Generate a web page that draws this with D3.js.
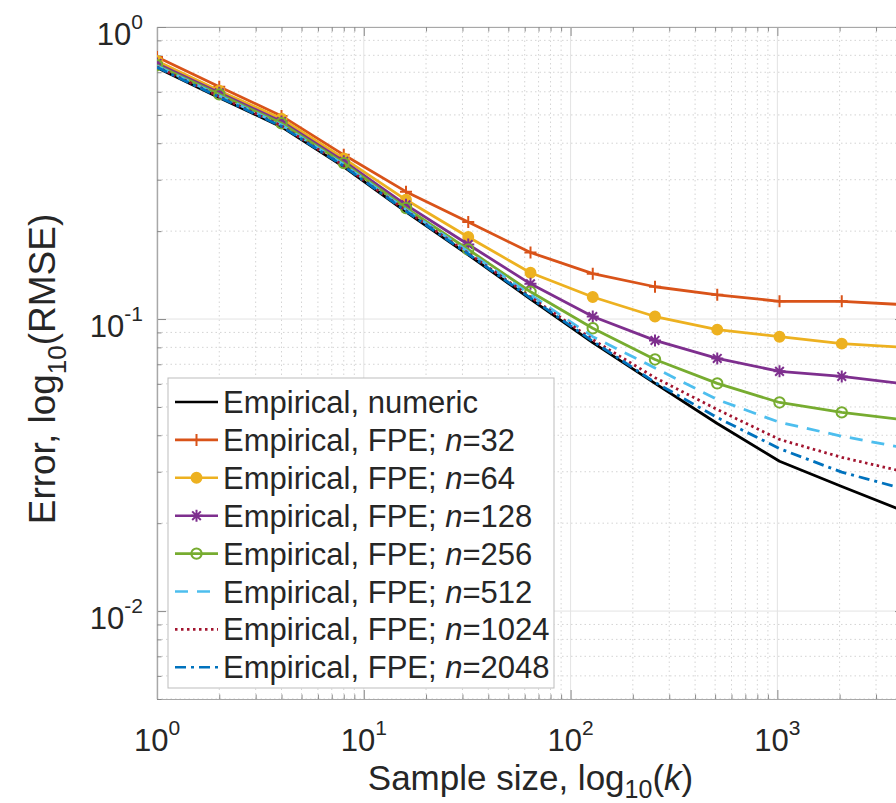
<!DOCTYPE html>
<html><head><meta charset="utf-8">
<script src="https://cdn.jsdelivr.net/npm/d3@7"></script>
<style>
body{margin:0;background:#fff}
svg{display:block}
text{font-family:"Liberation Sans",Arial,Helvetica,sans-serif;fill:#262626}
</style>
</head><body>
<svg id="chart" width="896" height="803"></svg>
<script>
// ---- data ----
const sampleSizes = [1,2,4,8,16,32,64,128,256,512,1024,2048,4096];
const numeric  = [0.725,0.572,0.455,0.332,0.233,0.166,0.117,0.083,0.0602,0.0439,0.0326,0.0267,0.0220];
const fpe32    = [0.789,0.624,0.496,0.365,0.273,0.215,0.169,0.143,0.129,0.121,0.115,0.115,0.112];
const fpe64    = [0.765,0.605,0.485,0.355,0.256,0.191,0.144,0.119,0.102,0.092,0.087,0.0824,0.080];
const fpe128   = [0.750,0.595,0.475,0.347,0.246,0.180,0.132,0.102,0.0845,0.0733,0.0662,0.0636,0.0600];
const fpe256   = [0.740,0.588,0.468,0.342,0.240,0.173,0.124,0.093,0.0727,0.0602,0.0518,0.0479,0.0452];
const fpe512   = [0.735,0.582,0.462,0.338,0.237,0.170,0.121,0.087,0.068,0.053,0.0443,0.0397,0.0362];
const fpe1024  = [0.730,0.578,0.459,0.335,0.235,0.168,0.119,0.085,0.063,0.049,0.0387,0.0336,0.0300];
const fpe2048  = [0.728,0.575,0.457,0.334,0.234,0.167,0.118,0.084,0.0607,0.046,0.036,0.0299,0.0262];
const seriesN  = [null,"32","64","128","256","512","1024","2048"];
const xTickExp = ["0","1","2","3"];
const yTickExp = ["0","-1","-2"];
const xLabelParts = ["Sample size, log","10","k"];
const yLabelParts = ["Error, log","10","(RMSE)"];

// ---- styles ----
const styles = [
  {color:"#000000", dash:null, marker:null},
  {color:"#D95319", dash:null, marker:"plus"},
  {color:"#EDB120", dash:null, marker:"dot"},
  {color:"#7E2F8E", dash:null, marker:"star"},
  {color:"#77AC30", dash:null, marker:"circle"},
  {color:"#4DBEEE", dash:"13,9", marker:null},
  {color:"#A2142F", dash:"2.5,3.5", marker:null},
  {color:"#0072BD", dash:"11,5,3,5", marker:null}
];
const allValues = [numeric,fpe32,fpe64,fpe128,fpe256,fpe512,fpe1024,fpe2048];
const series = allValues.map((vals,i)=>({n:seriesN[i], values:vals.map((v,j)=>({k:sampleSizes[j], v})), style:styles[i]}));

const L=157, R=904, T=27, B=699;
const x = d3.scaleLog().domain([1,4096]).range([L,R]);
const y = d3.scaleLog().domain([0.005,1]).range([B,T]);
const svg = d3.select("#chart");

svg.append("defs").append("clipPath").attr("id","plotclip")
  .append("rect").attr("x",L).attr("y",T).attr("width",R-L).attr("height",B-T);

// ---- grids ----
const xMajor = [1,10,100,1000];
const xMinor = [];
for (let d=1; d<=1000; d*=10) for (let m=2; m<=9; m++) if (d*m<=4096) xMinor.push(d*m);
const yMajor = [1,0.1,0.01];
const yMinor = [];
[0.001,0.01,0.1].forEach(d=>{for(let m=2;m<=9;m++){const v=d*m; if(v>=0.005-1e-9 && v<1) yMinor.push(v);}});

const grid = svg.append("g");
grid.selectAll(".xmin").data(xMinor).join("line")
  .attr("x1",d=>x(d)).attr("x2",d=>x(d)).attr("y1",T).attr("y2",B)
  .attr("stroke","#d4d4d4").attr("stroke-width",1).attr("stroke-dasharray","1.5,3");
grid.selectAll(".ymin").data(yMinor).join("line")
  .attr("y1",d=>y(d)).attr("y2",d=>y(d)).attr("x1",L).attr("x2",R)
  .attr("stroke","#d4d4d4").attr("stroke-width",1).attr("stroke-dasharray","1.5,3");
grid.selectAll(".xmaj").data(xMajor).join("line")
  .attr("x1",d=>x(d)).attr("x2",d=>x(d)).attr("y1",T).attr("y2",B)
  .attr("stroke","#e3e3e3").attr("stroke-width",1);
grid.selectAll(".ymaj").data(yMajor).join("line")
  .attr("y1",d=>y(d)).attr("y2",d=>y(d)).attr("x1",L).attr("x2",R)
  .attr("stroke","#e3e3e3").attr("stroke-width",1);

// ---- axes (inward ticks, box) ----
function styleAxis(g){
  g.select(".domain").attr("stroke","#a8a8a8").attr("stroke-width",1.2);
  g.selectAll(".tick line").attr("stroke","#8a8a8a").attr("stroke-width",1);
  g.selectAll(".tick text").remove();
}
svg.append("g").attr("transform",`translate(0,${B})`)
  .call(d3.axisBottom(x).tickValues(xMajor).tickSize(-9).tickSizeOuter(0).tickFormat("")).call(styleAxis);
svg.append("g").attr("transform",`translate(0,${B})`)
  .call(d3.axisBottom(x).tickValues(xMinor).tickSize(-4.5).tickSizeOuter(0).tickFormat("")).call(styleAxis);
svg.append("g").attr("transform",`translate(0,${T})`)
  .call(d3.axisTop(x).tickValues(xMajor).tickSize(-9).tickSizeOuter(0).tickFormat("")).call(styleAxis);
svg.append("g").attr("transform",`translate(0,${T})`)
  .call(d3.axisTop(x).tickValues(xMinor).tickSize(-4.5).tickSizeOuter(0).tickFormat("")).call(styleAxis);
svg.append("g").attr("transform",`translate(${L},0)`)
  .call(d3.axisLeft(y).tickValues(yMajor).tickSize(-9).tickSizeOuter(0).tickFormat("")).call(styleAxis);
svg.append("g").attr("transform",`translate(${L},0)`)
  .call(d3.axisLeft(y).tickValues(yMinor).tickSize(-4.5).tickSizeOuter(0).tickFormat("")).call(styleAxis);
svg.append("g").attr("transform",`translate(${R},0)`)
  .call(d3.axisRight(y).tickValues(yMajor).tickSize(-9).tickSizeOuter(0).tickFormat("")).call(styleAxis);

// tick labels
const xl = svg.append("g").selectAll("text").data(xMajor).join("text")
  .attr("x",d=>x(d)).attr("y",751).attr("text-anchor","middle").attr("font-size",31);
xl.append("tspan").text("10");
xl.append("tspan").attr("dy",-16).attr("font-size",21).text((d,i)=>xTickExp[i]);

const yl = svg.append("g").selectAll("text").data(yMajor).join("text")
  .attr("x",143).attr("y",d=>y(d)+18).attr("text-anchor","end").attr("font-size",31);
yl.append("tspan").text("10");
yl.append("tspan").attr("dy",-16).attr("font-size",21).text((d,i)=>yTickExp[i]);

// axis labels
const xt = svg.append("text").attr("x",(L+R)/2).attr("y",790).attr("text-anchor","middle").attr("font-size",35);
xt.append("tspan").text(xLabelParts[0]);
xt.append("tspan").attr("dy",8).attr("font-size",25).text(xLabelParts[1]);
xt.append("tspan").attr("dy",-8).text("(");
xt.append("tspan").attr("font-style","italic").text(xLabelParts[2]);
xt.append("tspan").text(")");

const yt = svg.append("text").attr("transform",`translate(55,${(T+B)/2+6}) rotate(-90)`)
  .attr("text-anchor","middle").attr("font-size",37);
yt.append("tspan").text(yLabelParts[0]);
yt.append("tspan").attr("dy",11).attr("font-size",26).text(yLabelParts[1]);
yt.append("tspan").attr("dy",-11).text(yLabelParts[2]);

// ---- lines ----
const line = d3.line().x(d=>x(d.k)).y(d=>y(d.v));
const plot = svg.append("g").attr("clip-path","url(#plotclip)");

function drawMarker(g, type, color, cx, cy){
  const s=6;
  if(type==="plus"){
    g.append("path").attr("d",`M${cx-s},${cy}H${cx+s}M${cx},${cy-s}V${cy+s}`)
      .attr("stroke",color).attr("stroke-width",2).attr("fill","none");
  } else if(type==="dot"){
    g.append("circle").attr("cx",cx).attr("cy",cy).attr("r",5.2)
      .attr("fill",color).attr("stroke",color).attr("stroke-width",1.5);
  } else if(type==="star"){
    const d=s*0.72;
    g.append("path").attr("d",`M${cx-s},${cy}H${cx+s}M${cx},${cy-s}V${cy+s}M${cx-d},${cy-d}L${cx+d},${cy+d}M${cx-d},${cy+d}L${cx+d},${cy-d}`)
      .attr("stroke",color).attr("stroke-width",2).attr("fill","none");
  } else if(type==="circle"){
    g.append("circle").attr("cx",cx).attr("cy",cy).attr("r",5.2)
      .attr("fill","none").attr("stroke",color).attr("stroke-width",2);
  }
}

series.forEach(s=>{
  const g = plot.append("g");
  g.append("path").datum(s.values).attr("d",line)
    .attr("fill","none").attr("stroke",s.style.color).attr("stroke-width",2.8)
    .attr("stroke-linejoin","round")
    .attr("stroke-dasharray",s.style.dash);
  if(s.style.marker){
    s.values.forEach(p=>drawMarker(g,s.style.marker,s.style.color,x(p.k),y(p.v)));
  }
});

// ---- legend ----
const leg = svg.append("g");
leg.append("rect").attr("x",168).attr("y",378).attr("width",386).attr("height",310)
  .attr("fill","#fff").attr("stroke","#bdbdbd").attr("stroke-width",1);
series.forEach((s,i)=>{
  const cy = 402 + i*37.9;
  leg.append("line").attr("x1",175).attr("x2",218).attr("y1",cy).attr("y2",cy)
    .attr("stroke",s.style.color).attr("stroke-width",2.6)
    .attr("stroke-dasharray",s.style.dash);
  if(s.style.marker) drawMarker(leg,s.style.marker,s.style.color,196.5,cy);
  const t = leg.append("text").attr("x",223).attr("y",cy+11).attr("font-size",31);
  if(s.n===null){
    t.text("Empirical, numeric");
  } else {
    t.append("tspan").text("Empirical, FPE; ");
    t.append("tspan").attr("font-style","italic").text("n");
    t.append("tspan").text("="+s.n);
  }
});
</script>
</body></html>
